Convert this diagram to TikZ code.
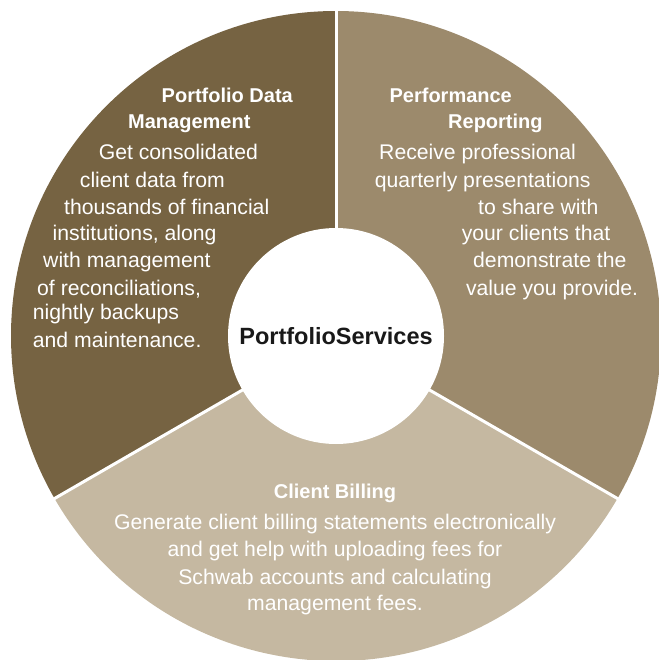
\documentclass[tikz,border=0pt]{standalone}
\usepackage{fontspec}
\setmainfont{Liberation Sans}
\usetikzlibrary{positioning}
\definecolor{sectdark}{HTML}{766342}
\definecolor{sectmid}{HTML}{9C8A6C}
\definecolor{sectlight}{HTML}{C5B8A1}
\tikzset{
  divider/.style={white,line width=3pt},
  hdlbl/.style={font=\fontsize{20}{24}\selectfont\bfseries,text=white,
    inner sep=0pt,anchor=base west},
  hdmid/.style={hdlbl,anchor=base},
  bodylbl/.style={font=\fontsize{21.2}{24}\selectfont,text=white,
    inner sep=0pt,anchor=base west},
  bodymid/.style={bodylbl,anchor=base},
  hub/.style={circle,fill=white,minimum size=216pt,inner sep=0pt,
    font=\fontsize{23.5}{26}\selectfont\bfseries,text=black!90},
}

\begin{document}
\begin{tikzpicture}[x=1pt,y=1pt]
  \useasboundingbox (0,0) rectangle (658,-660);
  \coordinate (c) at (336,-336);
  \path (c) ++(90:330) coordinate (rimtop)
        (c) ++(210:330) coordinate (rimleft)
        (c) ++(-30:330) coordinate (rimright);
  % the three sectors
  \fill[sectdark] (c) -- ++(90:325) arc[start angle=90,end angle=210,radius=325] -- cycle;
  \fill[sectmid] (c) -- ++(-30:325) arc[start angle=-30,end angle=90,radius=325] -- cycle;
  \fill[sectlight] (c) -- ++(210:325) arc[start angle=210,end angle=330,radius=325] -- cycle;
  \draw[divider] (c) -- (rimtop);
  \draw[divider] (c) -- (rimleft);
  \draw[divider] (c) -- (rimright);
  \node[hub] (hub) at (c) {PortfolioServices};
  % Portfolio Data Management
  \foreach \nm/\xx/\yy/\txt in {pdh1/161.5/102.5/{Portfolio Data},
      pdh2/128/128.5/Management,
      prh1/389.4/102.5/Performance,
      prh2/448/128.5/Reporting}
    \node[hdlbl] (\nm) at (\xx,-\yy) {\txt};
  \foreach \nm/\xx/\yy/\txt in {pdb1/98.6/160/{Get consolidated},
      pdb2/79.7/187.4/{client data from},
      pdb3/64/214.7/{thousands of financial},
      pdb4/52.5/240.3/{institutions, along},
      pdb5/43/267/{with management},
      pdb6/37/295/{of reconciliations,},
      pdb7/32.7/319.6/{nightly backups},
      pdb8/32.7/347/{and maintenance.}}
    \node[bodylbl] (\nm) at (\xx,-\yy) {\txt};
  % Performance Reporting
  \foreach \nm/\xx/\yy/\txt in {prb1/379/160/{Receive professional},
      prb2/374.7/187.4/{quarterly presentations},
      prb3/478/214.7/{to share with},
      prb4/461.6/240.3/{your clients that},
      prb5/473/267/{demonstrate the},
      prb6/465.8/295/{value you provide.}}
    \node[bodylbl] (\nm) at (\xx,-\yy) {\txt};
  % Client Billing
  \node[hdmid] (cbh) at (335,-498) {Client Billing};
  \foreach \nm/\yy/\txt in {cbb1/529.5/{Generate client billing statements electronically},
      cbb2/556.7/{and get help with uploading fees for},
      cbb3/584/{Schwab accounts and calculating},
      cbb4/610.4/{management fees.}}
    \node[bodymid] (\nm) at (335,-\yy) {\txt};
\end{tikzpicture}
\end{document}
